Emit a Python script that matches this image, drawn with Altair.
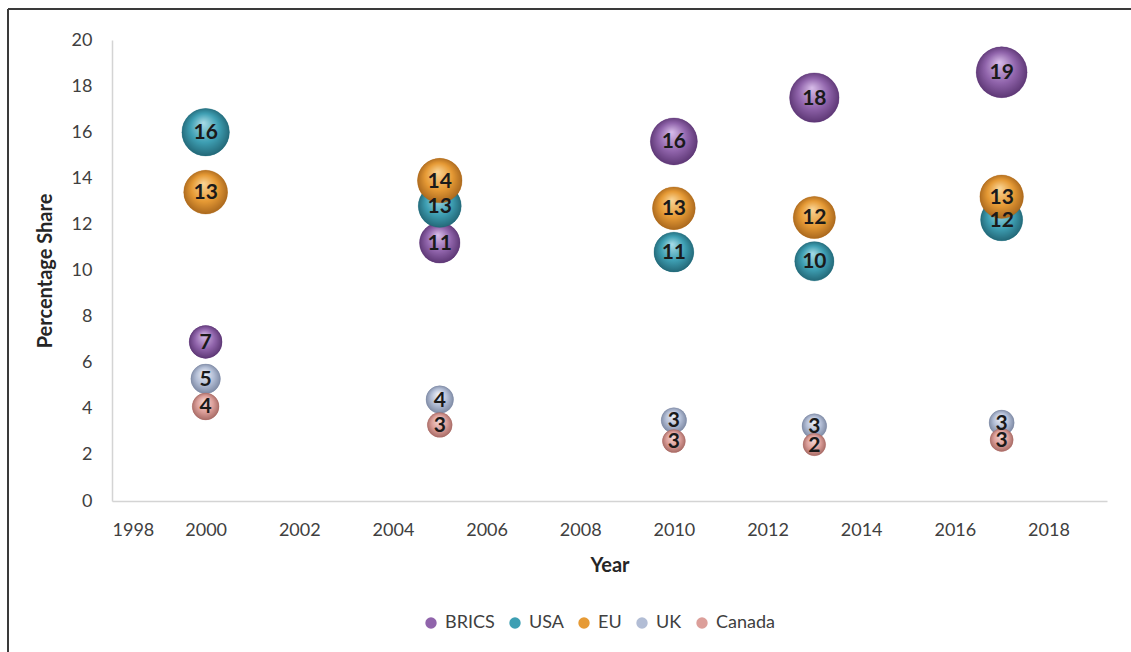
import altair as alt
import pandas as pd

years = [2000, 2005, 2010, 2013, 2017]
series_names = ["BRICS", "USA", "EU", "UK", "Canada"]
brics = [6.9, 11.2, 15.6, 17.5, 18.6]
usa = [16.0, 12.8, 10.8, 10.4, 12.2]
eu = [13.4, 13.9, 12.7, 12.3, 13.2]
uk = [5.3, 4.4, 3.5, 3.25, 3.4]
canada = [4.1, 3.3, 2.6, 2.45, 2.65]
brics_lbl = ["7", "11", "16", "18", "19"]
usa_lbl = ["16", "13", "11", "10", "12"]
eu_lbl = ["13", "14", "13", "12", "13"]
uk_lbl = ["5", "4", "3", "3", "3"]
canada_lbl = ["4", "3", "3", "2", "3"]
x_ticks = list(range(1998, 2019, 2))
y_ticks = list(range(0, 21, 2))

base_colors = ["#9064ab", "#3e9fb3", "#e69a35", "#b2bdd5", "#dc9f9a"]
light_colors = ["#d8bde9", "#a9dce6", "#f9d597", "#f1f3f9", "#f6d9d6"]
dark_colors = ["#55306c", "#1f5f6e", "#a0601a", "#76829c", "#a0645e"]

vals = [brics, usa, eu, uk, canada]
lbls = [brics_lbl, usa_lbl, eu_lbl, uk_lbl, canada_lbl]
rows = []
for s, v, l in zip(series_names, vals, lbls):
    for y, val, lab in zip(years, v, l):
        rows.append({"series": s, "year": y, "value": val, "label": lab})
df = pd.DataFrame(rows)

FONT = "Lato"
x_enc = alt.X("year:Q", scale=alt.Scale(domain=[1998, 2019.25], nice=False, zero=False),
              axis=alt.Axis(values=x_ticks, format="d", title="Year", grid=False, ticks=False,
                            labelPadding=20, titlePadding=16))
y_enc = alt.Y("value:Q", scale=alt.Scale(domain=[0, 20], nice=False),
              axis=alt.Axis(values=y_ticks, title="Percentage Share", grid=False, ticks=False,
                            labelPadding=20, titlePadding=16))
size_enc = alt.Size("value:Q", scale=alt.Scale(domain=[0, 20], range=[190, 2770]), legend=None)

base = alt.Chart(df).mark_circle(opacity=1).encode(
    x=x_enc, y=y_enc, size=size_enc,
    color=alt.Color("series:N", scale=alt.Scale(domain=series_names, range=base_colors),
                    legend=alt.Legend(title=None, orient="none", direction="horizontal",
                                      columns=5, legendX=310, legendY=574,
                                      symbolSize=130, symbolType="circle",
                                      labelFontSize=18, labelFont=FONT, labelColor="#404040",
                                      columnPadding=11, labelOffset=5)),
)

layers = [base]
for s, b, lc, dc in zip(series_names, base_colors, light_colors, dark_colors):
    grad = alt.Gradient(
        gradient="radial", x1=0.45, y1=0.3, r1=0.0, x2=0.5, y2=0.5, r2=0.55,
        stops=[alt.GradientStop(color=lc, offset=0),
               alt.GradientStop(color=b, offset=0.55),
               alt.GradientStop(color=dc, offset=1)])
    layers.append(
        alt.Chart(df).transform_filter(alt.datum.series == s)
        .mark_circle(fill=grad, opacity=1, stroke=dc, strokeWidth=0.3)
        .encode(x=alt.X("year:Q"), y=alt.Y("value:Q"), size=size_enc)
    )

text = alt.Chart(df).mark_text(font=FONT, fontSize=21, fontWeight="bold", color="#1a1a1a",
                                baseline="middle", dy=1).encode(
    x=alt.X("year:Q"), y=alt.Y("value:Q"), text="label:N")
layers.append(text)

frame_top = alt.Chart(df).mark_rule(color="#3a3a3a", strokeWidth=2).encode(
    x=alt.value(-104), x2=alt.value(1030), y=alt.value(-31))
frame_left = alt.Chart(df).mark_rule(color="#3a3a3a", strokeWidth=2).encode(
    x=alt.value(-104), y=alt.value(-31), y2=alt.value(620))
layers += [frame_top, frame_left]

chart = alt.layer(*layers).properties(
    width=995, height=461,
    autosize=alt.AutoSizeParams(type="none"),
    padding={"left": 112, "top": 40, "right": 24, "bottom": 151},
    background="white",
).configure_view(stroke=None).configure_axis(
    domainColor="#d4d4d4", domainWidth=1.5, labelFont=FONT, labelFontSize=18,
    labelColor="#404040", titleFont=FONT, titleFontSize=20, titleFontWeight="bold",
    titleColor="#262626",
)

chart.save("out.html", embed_options={"renderer": "svg", "actions": False})
